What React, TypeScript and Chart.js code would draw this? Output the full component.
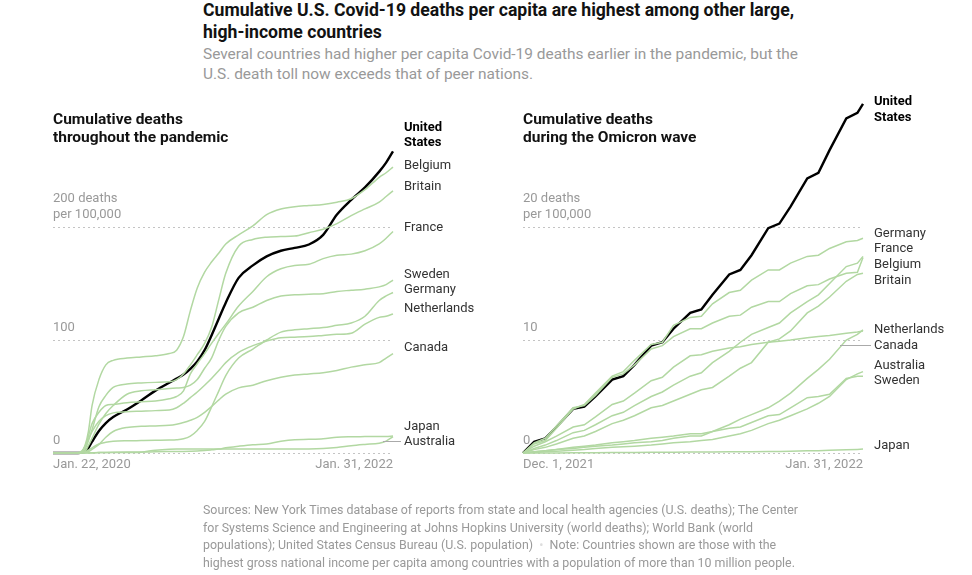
import React, { useEffect, useLayoutEffect, useRef } from "react";
import { Chart, registerables } from "chart.js";
Chart.register(...registerables);

// ---------- Left panel: days since Jan. 22, 2020 ----------
const pandemicDays = [0, 39, 54, 63, 70, 77, 85, 100, 115, 131, 161, 192, 223, 253, 269, 284, 299, 314, 330, 345, 361, 376, 404, 435, 465, 496, 526, 557, 588, 618, 649, 679, 710, 725, 740];
const pUS = [0, 0, 0.03, 0.3, 1.6, 4.5, 10, 19.5, 26.5, 31.8, 38.5, 46.5, 55.2, 62.2, 65.8, 69.5, 74.5, 81, 91, 104, 119, 133, 155, 166, 174, 179, 181.5, 184.5, 193, 211, 224, 235, 249, 257, 267];
const pBelgium = [0, 0, 0.04, 1.1, 7, 19, 42, 65, 78, 82, 84, 85, 86, 88, 91, 103, 126, 146, 160, 169, 177, 185, 193, 201, 211, 216, 218, 219, 220, 222, 225, 233, 244, 248, 253];
const pBritain = [0, 0, 0.1, 0.7, 3.5, 10.6, 20.5, 41, 51, 58, 61, 62, 62.5, 63, 65, 70, 78, 87, 97, 111, 136, 159, 183, 189, 191, 191.5, 192, 195, 198, 203, 210, 216, 222, 227, 232];
const pFrance = [0, 0, 0.2, 2, 6, 15, 26, 36, 42, 43, 44.5, 45.3, 46, 48, 50, 55, 70, 79, 88, 97, 106, 114, 130, 143, 156, 163, 166, 167, 172, 175, 176, 179, 185, 190, 196];
const pSweden = [0, 0, 0.1, 0.6, 1.7, 6.5, 13, 25.5, 35, 42, 52, 55, 56, 57, 57.5, 58, 60, 65, 75, 84, 100, 112, 124, 129, 135, 139, 140, 140.5, 141, 143, 144, 145, 147, 149, 153];
const pGermany = [0, 0, 0.01, 0.2, 1.1, 2.6, 4.6, 8, 9.5, 10.3, 10.8, 11, 11.2, 11.4, 11.7, 12.6, 15, 20, 28, 40.6, 55, 68.5, 84, 92, 100, 107, 109, 110, 111, 113, 115, 121, 135, 139, 142];
const pNetherlands = [0, 0, 0.1, 1.3, 6.5, 12.5, 19, 28, 33, 35.5, 36.5, 37, 37.5, 38, 40, 44, 49, 54, 60, 66, 73, 80, 89, 95, 99, 102, 102.5, 103, 104, 105, 106, 114, 120, 121, 123];
const pCanada = [0, 0, 0, 0.1, 0.5, 1.3, 3.3, 7.6, 14, 19, 22.6, 23.6, 24, 24.5, 25.5, 27, 29, 31.6, 36, 41, 47, 52, 57.6, 60, 64, 67, 69, 70, 71, 73, 76, 78, 80, 84, 88];
const pJapan = [0, 0, 0, 0, 0.05, 0.07, 0.1, 0.35, 0.55, 0.7, 0.78, 0.8, 1.05, 1.25, 1.35, 1.4, 1.5, 1.7, 2.2, 2.8, 3.5, 4.6, 6, 7.3, 8, 10.4, 11.8, 12.1, 12.6, 14, 14.4, 14.5, 14.6, 14.7, 15];
const pAustralia = [0, 0, 0, 0.02, 0.07, 0.17, 0.25, 0.37, 0.38, 0.4, 0.41, 0.75, 2.5, 3.4, 3.5, 3.5, 3.5, 3.5, 3.5, 3.55, 3.56, 3.57, 3.57, 3.58, 3.58, 3.58, 3.59, 3.6, 3.9, 4.8, 6.4, 7.6, 8.7, 10.5, 14.5];

// ---------- Right panel: days since Dec. 1, 2021 ----------
const omicronDays = [0, 2, 4, 6, 9, 11, 13, 16, 18, 20, 23, 25, 27, 30, 32, 34, 37, 39, 41, 44, 46, 48, 51, 53, 55, 58, 60, 61];
const oUS = [0, 1.0, 1.3, 2.3, 3.9, 4.1, 5.0, 6.5, 6.8, 7.8, 9.5, 9.8, 11.0, 12.4, 12.7, 14.0, 15.8, 16.2, 17.5, 19.9, 20.3, 21.8, 24.3, 24.8, 26.8, 29.6, 30.1, 30.9];
const oGermany = [0, 0.8, 1.1, 2.2, 3.9, 4.3, 5.3, 6.8, 7.2, 8.2, 9.6, 9.8, 11.3, 12.0, 12.1, 13.2, 14.2, 14.4, 15.3, 16.2, 16.2, 16.8, 17.4, 17.5, 18.1, 18.7, 18.8, 19.0];
const oFrance = [0, 0.4, 0.7, 1.1, 1.8, 2.0, 2.5, 3.3, 3.6, 4.2, 5.0, 5.4, 6.0, 6.8, 7.1, 8.0, 9.0, 9.8, 10.5, 11.1, 11.5, 12.4, 13.4, 14.0, 15.0, 16.5, 16.8, 17.4];
const oBelgium = [0, 0.9, 1.3, 2.4, 4.0, 4.2, 5.1, 6.7, 7.0, 7.8, 9.2, 9.5, 10.3, 11.0, 11.0, 11.5, 12.1, 12.2, 12.9, 13.4, 13.4, 14.1, 14.8, 14.9, 15.4, 15.9, 16.0, 17.3];
const oBritain = [0, 0.3, 0.5, 0.8, 1.3, 1.5, 1.9, 2.6, 2.9, 3.3, 4.0, 4.2, 4.6, 5.2, 5.6, 5.8, 6.8, 7.5, 8.0, 9.8, 10.1, 10.8, 12.4, 13.0, 13.8, 15.2, 15.8, 15.9];
const oNetherlands = [0, 0.6, 1.0, 1.5, 2.3, 2.5, 3.2, 4.3, 4.6, 5.3, 6.4, 6.7, 7.6, 8.6, 8.7, 9.0, 9.3, 9.4, 9.6, 9.8, 9.9, 10.0, 10.2, 10.3, 10.4, 10.6, 10.7, 10.8];
const oCanada = [0, 0.1, 0.2, 0.3, 0.5, 0.6, 0.7, 0.9, 1.0, 1.1, 1.3, 1.4, 1.5, 1.7, 1.7, 1.9, 2.5, 3.0, 3.4, 4.0, 4.6, 5.3, 6.6, 7.4, 8.3, 10.0, 10.5, 10.9];
const oAustralia = [0, 0.05, 0.1, 0.15, 0.25, 0.3, 0.4, 0.5, 0.55, 0.6, 0.7, 0.8, 0.9, 1.0, 1.1, 1.2, 1.5, 1.7, 2.0, 2.6, 2.9, 3.3, 3.9, 4.4, 5.0, 6.5, 7.0, 7.2];
const oSweden = [0, 0.1, 0.2, 0.3, 0.4, 0.5, 0.6, 0.7, 0.8, 0.9, 1.0, 1.1, 1.3, 1.5, 1.5, 1.9, 2.2, 2.3, 2.7, 3.3, 3.4, 4.0, 4.9, 5.0, 5.2, 6.6, 6.8, 6.8];
const oJapan = [0, 0, 0, 0.01, 0.02, 0.02, 0.03, 0.04, 0.04, 0.05, 0.06, 0.06, 0.07, 0.08, 0.08, 0.09, 0.1, 0.1, 0.11, 0.13, 0.14, 0.16, 0.19, 0.21, 0.24, 0.28, 0.32, 0.35];

// ---------- Ticks and labels ----------
const pandemicGrid = [0, 100, 200];
const omicronGrid = [0, 10, 20];
const pandemicTickLabels = [["0"], ["100"], ["200 deaths", "per 100,000"]];
const omicronTickLabels = [["0"], ["10"], ["20 deaths", "per 100,000"]];
const pandemicDateLabels = ["Jan. 22, 2020", "Jan. 31, 2022"];
const omicronDateLabels = ["Dec. 1, 2021", "Jan. 31, 2022"];
const pandemicTitle = ["Cumulative deaths", "throughout the pandemic"];
const omicronTitle = ["Cumulative deaths", "during the Omicron wave"];

// end labels: text, value (data units) of label centre, bold
const pandemicLabels: [string, number, boolean][] = [
  ["United", 288.5, true], ["States", 275.2, true], ["Belgium", 254.9, false], ["Britain", 236.3, false],
  ["France", 200, false], ["Sweden", 158.4, false], ["Germany", 145.1, false], ["Netherlands", 128.3, false],
  ["Canada", 93.8, false], ["Japan", 23.9, false], ["Australia", 10.6, false],
];
const omicronLabels: [string, number, boolean][] = [
  ["United", 31.15, true], ["States", 29.8, true], ["Germany", 19.47, false], ["France", 18.14, false],
  ["Belgium", 16.73, false], ["Britain", 15.31, false], ["Netherlands", 10.97, false], ["Canada", 9.56, false],
  ["Australia", 7.79, false], ["Sweden", 6.46, false], ["Japan", 0.71, false],
];

const titleLines = ["Cumulative U.S. Covid-19 deaths per capita are highest among other large,", "high-income countries"];
const subtitleLines = ["Several countries had higher per capita Covid-19 deaths earlier in the pandemic, but the", "U.S. death toll now exceeds that of peer nations."];

const GREEN = "#b2d8a2";
const FONT = "Roboto, 'Liberation Sans', sans-serif";

type Series = { name: string; values: number[] };

function makeDatasets(days: number[], series: Series[], us: number[], smooth: boolean) {
  const ds: any[] = series.map((s) => ({
    label: s.name,
    data: days.map((d, i) => ({ x: d, y: s.values[i] })),
    borderColor: GREEN,
    borderWidth: 1.5,
    pointRadius: 0,
    fill: false,
    clip: false,
    cubicInterpolationMode: smooth ? "monotone" : "default",
    tension: 0,
  }));
  ds.push({
    label: "United States",
    data: days.map((d, i) => ({ x: d, y: us[i] })),
    borderColor: "#000",
    borderWidth: 2.4,
    pointRadius: 0,
    fill: false,
    clip: false,
    cubicInterpolationMode: smooth ? "monotone" : "default",
    tension: 0,
  });
  return ds;
}

function overlay(opts: {
  grid: number[];
  tickLabels: string[][];
  dates: string[];
  title: string[];
  labels: [string, number, boolean][];
  leader?: { value: number; from: number };
}) {
  return {
    id: "overlay",
    beforeDatasetsDraw(chart: any) {
      const ctx = chart.ctx;
      const y = chart.scales.y;
      const { left, right } = chart.chartArea;
      ctx.save();
      ctx.strokeStyle = "#c4c4c4";
      ctx.lineWidth = 1;
      ctx.setLineDash([2, 3]);
      opts.grid.forEach((v) => {
        const py = Math.round(y.getPixelForValue(v)) + 0.5;
        ctx.beginPath();
        ctx.moveTo(left, py);
        ctx.lineTo(right, py);
        ctx.stroke();
      });
      ctx.restore();
    },
    afterDraw(chart: any) {
      const ctx = chart.ctx;
      const y = chart.scales.y;
      const { left, right } = chart.chartArea;
      const zero = y.getPixelForValue(0);
      ctx.save();
      ctx.textBaseline = "middle";
      ctx.fillStyle = "#999";
      ctx.font = `13px ${FONT}`;
      ctx.textAlign = "left";
      opts.grid.forEach((v, i) => {
        const py = y.getPixelForValue(v);
        const lines = opts.tickLabels[i];
        lines.forEach((t, j) => {
          ctx.fillText(t, left, py - 12 - (lines.length - 1 - j) * 16);
        });
      });
      ctx.fillText(opts.dates[0], left, zero + 12);
      ctx.textAlign = "right";
      ctx.fillText(opts.dates[1], right, zero + 12);
      ctx.textAlign = "left";
      ctx.fillStyle = "#121212";
      ctx.font = `bold 15.5px ${FONT}`;
      opts.title.forEach((t, j) => ctx.fillText(t, left, 120 + j * 18));
      if (opts.leader) {
        const py = Math.round(y.getPixelForValue(opts.leader.value)) + 0.5;
        ctx.strokeStyle = "#aaa";
        ctx.lineWidth = 1;
        ctx.beginPath();
        ctx.moveTo(right - opts.leader.from, py);
        ctx.lineTo(right + 8, py);
        ctx.stroke();
      }
      opts.labels.forEach(([t, v, bold]) => {
        ctx.font = bold ? `bold 13px ${FONT}` : `13px ${FONT}`;
        ctx.fillStyle = bold ? "#000" : "#333";
        ctx.fillText(t, right + 11, y.getPixelForValue(v) + 1);
      });
      ctx.restore();
    },
  };
}

// Text block whose first line is compressed horizontally to a target width
function FitBlock(props: { lines: React.ReactNode[]; target: number; style: React.CSSProperties }) {
  const ref = useRef<HTMLDivElement>(null);
  useLayoutEffect(() => {
    const el = ref.current;
    if (!el) return;
    const first = el.querySelector("span") as HTMLElement;
    const w = first.getBoundingClientRect().width;
    if (w > 0) el.style.transform = `scaleX(${props.target / w})`;
  }, []);
  return (
    <div ref={ref} style={{ ...props.style, position: "absolute", whiteSpace: "nowrap", transformOrigin: "0 0" }}>
      {props.lines.map((l, i) => (
        <div key={i}>
          <span>{l}</span>
        </div>
      ))}
    </div>
  );
}

function App() {
  const leftRef = useRef<HTMLCanvasElement>(null);
  const rightRef = useRef<HTMLCanvasElement>(null);

  useEffect(() => {
    const pxPerUnitL = 1.13;
    const pxPerUnitR = 11.3;
    const zeroY = 453;
    const left = new Chart(leftRef.current as HTMLCanvasElement, {
      type: "line",
      data: {
        datasets: makeDatasets(
          pandemicDays,
          [
            { name: "Japan", values: pJapan },
            { name: "Australia", values: pAustralia },
            { name: "Canada", values: pCanada },
            { name: "Netherlands", values: pNetherlands },
            { name: "Germany", values: pGermany },
            { name: "Sweden", values: pSweden },
            { name: "France", values: pFrance },
            { name: "Britain", values: pBritain },
            { name: "Belgium", values: pBelgium },
          ],
          pUS,
          true
        ),
      },
      options: {
        animation: false,
        responsive: false,
        devicePixelRatio: 1,
        layout: { padding: { left: 53, right: 486 - 393, top: zeroY - 280 * pxPerUnitL, bottom: 575 - zeroY } },
        plugins: { legend: { display: false }, tooltip: { enabled: false } },
        scales: {
          x: { type: "linear", min: 0, max: 740, display: false },
          y: { type: "linear", min: 0, max: 280, display: false },
        },
      },
      plugins: [
        overlay({
          grid: pandemicGrid,
          tickLabels: pandemicTickLabels,
          dates: pandemicDateLabels,
          title: pandemicTitle,
          labels: pandemicLabels,
          leader: { value: 10.6, from: 10 },
        }),
      ],
    } as any);

    const right = new Chart(rightRef.current as HTMLCanvasElement, {
      type: "line",
      data: {
        datasets: makeDatasets(
          omicronDays,
          [
            { name: "Japan", values: oJapan },
            { name: "Sweden", values: oSweden },
            { name: "Australia", values: oAustralia },
            { name: "Canada", values: oCanada },
            { name: "Netherlands", values: oNetherlands },
            { name: "Britain", values: oBritain },
            { name: "Belgium", values: oBelgium },
            { name: "France", values: oFrance },
            { name: "Germany", values: oGermany },
          ],
          oUS,
          false
        ),
      },
      options: {
        animation: false,
        responsive: false,
        devicePixelRatio: 1,
        layout: { padding: { left: 523 - 486, right: 486 - (863 - 486), top: zeroY - 32 * pxPerUnitR, bottom: 575 - zeroY } },
        plugins: { legend: { display: false }, tooltip: { enabled: false } },
        scales: {
          x: { type: "linear", min: 0, max: 61, display: false },
          y: { type: "linear", min: 0, max: 32, display: false },
        },
      },
      plugins: [
        overlay({
          grid: omicronGrid,
          tickLabels: omicronTickLabels,
          dates: omicronDateLabels,
          title: omicronTitle,
          labels: omicronLabels,
          leader: { value: 9.56, from: 23 },
        }),
      ],
    } as any);

    return () => {
      left.destroy();
      right.destroy();
    };
  }, []);

  return (
    <div style={{ position: "fixed", left: 0, top: 0, width: 972, height: 575, background: "#fff", overflow: "hidden" }}>
      <FitBlock
        lines={titleLines}
        target={591}
        style={{ left: 203, top: -1, fontFamily: FONT, fontWeight: 700, fontSize: 17.5, lineHeight: "22px", color: "#121212" }}
      />
      <FitBlock
        lines={subtitleLines}
        target={595}
        style={{ left: 203, top: 44, fontFamily: FONT, fontSize: 15.5, lineHeight: "20px", color: "#999" }}
      />
      <canvas ref={leftRef} width={486} height={575} style={{ position: "absolute", left: 0, top: 0 }} />
      <canvas ref={rightRef} width={486} height={575} style={{ position: "absolute", left: 486, top: 0 }} />
      <FitBlock
        target={595}
        style={{ left: 203, top: 501, fontFamily: FONT, fontSize: 13, lineHeight: "17.5px", color: "#999" }}
        lines={[
          "Sources: New York Times database of reports from state and local health agencies (U.S. deaths); The Center",
          "for Systems Science and Engineering at Johns Hopkins University (world deaths); World Bank (world",
          <>
            populations); United States Census Bureau (U.S. population) <span style={{ color: "#ddd" }}>&nbsp;•&nbsp;</span> Note: Countries shown are those with the
          </>,
          "highest gross national income per capita among countries with a population of more than 10 million people.",
        ]}
      />
    </div>
  );
}

export default App;
